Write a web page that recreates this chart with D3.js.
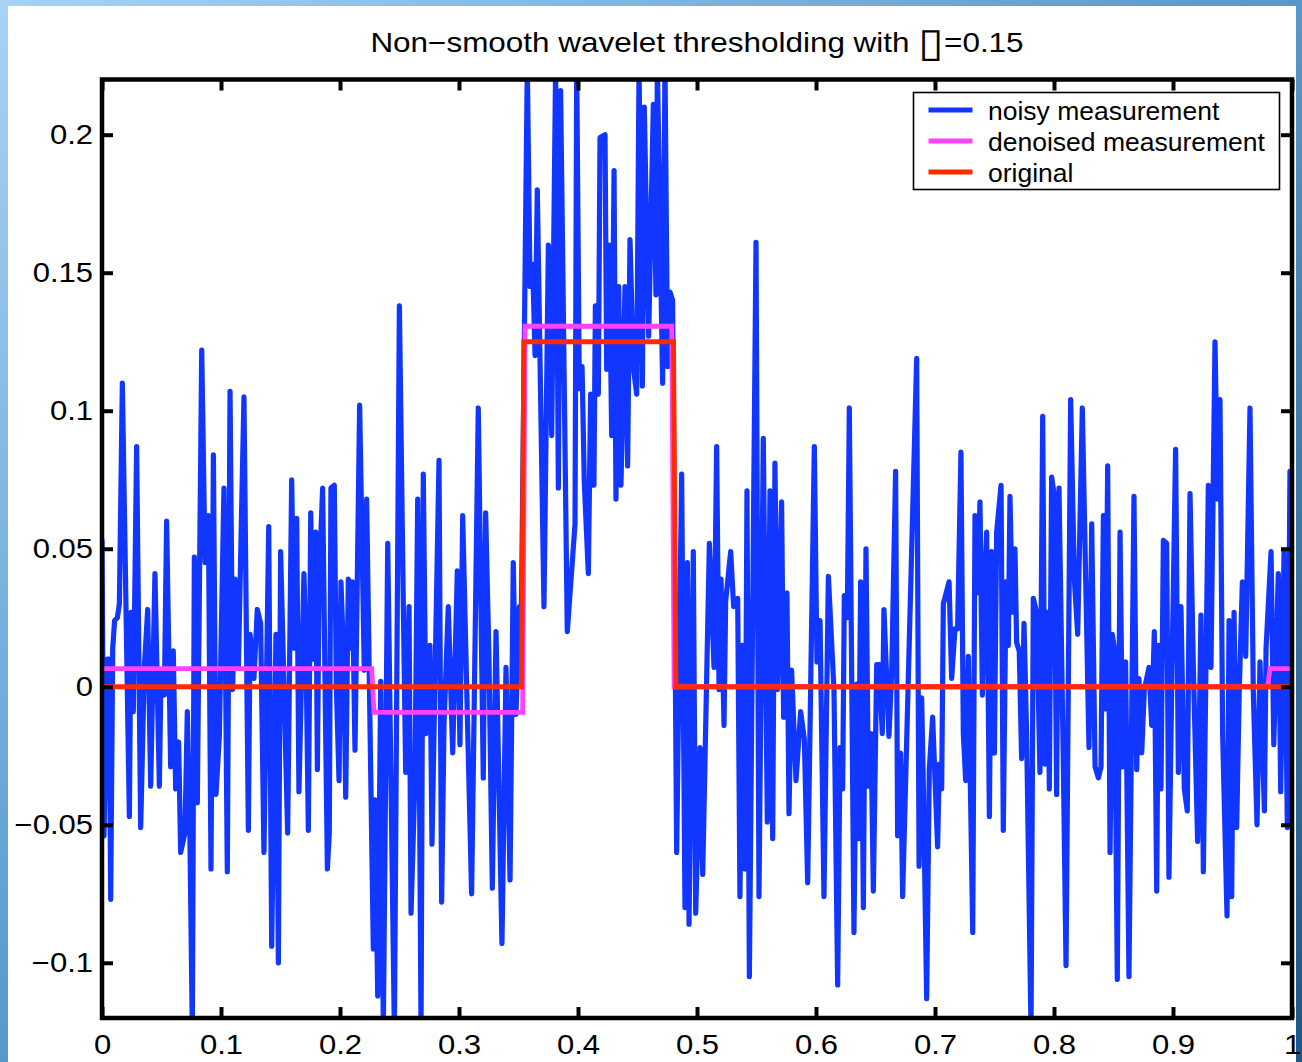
<!DOCTYPE html>
<html>
<head>
<meta charset="utf-8">
<script src="https://cdn.jsdelivr.net/npm/d3@7"></script>
<style>
  html, body { margin: 0; padding: 0; background: #ffffff; }
  svg { display: block; }
  text { font-family: "Liberation Sans", Arial, Helvetica, sans-serif; fill: #000; }
</style>
</head>
<body>
<svg id="chart" width="1302" height="1062"></svg>
<script>
// ---- data ----------------------------------------------------------------
const titleText = "Non\u2212smooth wavelet thresholding with ";
const titleGlyph = "\u25AF";
const titleTail = "=0.15";

const seriesNames = ["noisy measurement", "denoised measurement", "original"];
const seriesColors = ["#1036ff", "#ff42ff", "#ff2a00"];

const xTickValues = [0, 0.1, 0.2, 0.3, 0.4, 0.5, 0.6, 0.7, 0.8, 0.9, 1];
const xTickLabels = ["0", "0.1", "0.2", "0.3", "0.4", "0.5", "0.6", "0.7", "0.8", "0.9", "1"];
const yTickValues = [-0.1, -0.05, 0, 0.05, 0.1, 0.15, 0.2];
const yTickLabels = ["\u22120.1", "\u22120.05", "0", "0.05", "0.1", "0.15", "0.2"];

// noisy measurement: sample positions and values
const noisyT = [
  0.000, 0.0017, 0.0045, 0.0059, 0.0073, 0.0090, 0.0106, 0.0129, 0.0146, 0.0171, 0.0230, 0.0244, 0.0263, 0.0291, 0.0325, 0.0356, 0.0384, 0.0409, 0.0445, 0.0482, 0.0496, 0.0524, 0.0543, 0.0577, 0.0599, 0.0619, 0.0644, 0.0661, 0.0697, 0.0717, 0.0739, 0.0759, 0.0776, 0.0801, 0.0838, 0.0866, 0.0894, 0.0916, 0.0936, 0.0958, 0.0986, 0.1025, 0.1053, 0.1076, 0.1098, 0.1118, 0.1146, 0.1193, 0.1230, 0.1244, 0.1277, 0.1305, 0.1333, 0.1361, 0.1401, 0.1426, 0.1462, 0.1482, 0.1501, 0.1529, 0.1560, 0.1594, 0.1616, 0.1636, 0.1655,
  0.1697, 0.1714, 0.1734, 0.1754, 0.1776, 0.1796, 0.1810, 0.1824, 0.1854, 0.1894, 0.1910, 0.1924, 0.1952, 0.1969, 0.1992, 0.2008, 0.2031, 0.2048, 0.2070, 0.2092, 0.2104, 0.2126, 0.2165, 0.2204, 0.2224, 0.2280, 0.2294, 0.2317, 0.2342, 0.2364, 0.2401, 0.2457, 0.2499, 0.2532, 0.2552, 0.2580, 0.2597, 0.2630, 0.2653, 0.2681, 0.2700, 0.2723, 0.2756, 0.2773, 0.2832, 0.2854, 0.2874, 0.2910, 0.2947, 0.2986, 0.3008, 0.3031, 0.3064, 0.3106, 0.3162, 0.3204, 0.3224, 0.3252, 0.3280,
  0.3311, 0.3361, 0.3395, 0.3429, 0.3456, 0.3479, 0.3507, 0.3521,
  0.3574, 0.3597, 0.3619, 0.3639, 0.3658, 0.3714, 0.3751, 0.3779, 0.3812, 0.3835, 0.3854, 0.3910, 0.3975, 0.3989, 0.4011, 0.4034, 0.4053, 0.4087, 0.4106, 0.4134, 0.4146, 0.4171, 0.4185, 0.4227, 0.4241, 0.4263, 0.4283, 0.4303, 0.4319, 0.4342, 0.4361, 0.4395, 0.4417, 0.4437, 0.4465, 0.4493, 0.4513, 0.4541, 0.4557, 0.4594, 0.4633, 0.4655, 0.4667, 0.4711, 0.4731, 0.4753, 0.4773, 0.4795, 0.4829, 0.4871, 0.4899, 0.4919,
  0.4933, 0.4969, 0.4989, 0.5025, 0.5048, 0.5104, 0.5143, 0.5165, 0.5185, 0.5202, 0.5227, 0.5241, 0.5283, 0.5308, 0.5342, 0.5361, 0.5381, 0.5403, 0.5420, 0.5440, 0.5496, 0.5521, 0.5557, 0.5591, 0.5613, 0.5636, 0.5655, 0.5678, 0.5711, 0.5728, 0.5756, 0.5773, 0.5795, 0.5832, 0.5871, 0.5902, 0.5930, 0.5986, 0.6008, 0.6034, 0.6067, 0.6104, 0.6151, 0.6182, 0.6202, 0.6224, 0.6238, 0.6263, 0.6280, 0.6319, 0.6342, 0.6356, 0.6375, 0.6398, 0.6420, 0.6440, 0.6462, 0.6482, 0.6510, 0.6532, 0.6557, 0.6571,
  0.6594, 0.6613, 0.6636, 0.6669, 0.6686, 0.6711, 0.6728, 0.6846, 0.6866, 0.6888, 0.6902, 0.6930, 0.6952, 0.6980, 0.7022, 0.7036, 0.7056, 0.7070, 0.7118, 0.7140, 0.7168, 0.7190, 0.7218, 0.7238, 0.7258, 0.7280, 0.7317, 0.7336, 0.7356, 0.7378, 0.7398, 0.7415, 0.7434, 0.7457, 0.7476, 0.7499, 0.7518, 0.7555, 0.7574, 0.7597, 0.7616, 0.7630, 0.7650, 0.7672, 0.7686, 0.7708, 0.7728, 0.7748, 0.7770, 0.7807, 0.7826, 0.7854, 0.7882, 0.7905, 0.7924, 0.7944, 0.7961, 0.7980, 0.8000, 0.8022, 0.8042, 0.8078, 0.8101, 0.8140, 0.8171, 0.8199,
  0.8238, 0.8294, 0.8317, 0.8345, 0.8373, 0.8395, 0.8415, 0.8434, 0.8451, 0.8471, 0.8490, 0.8507, 0.8532, 0.8555, 0.8577, 0.8602, 0.8630, 0.8672, 0.8695, 0.8714, 0.8737, 0.8759, 0.8798, 0.8821, 0.8843, 0.8863, 0.8877, 0.8899, 0.8919, 0.8947, 0.8966, 0.8989, 0.9022, 0.9045, 0.9067, 0.9095, 0.9120, 0.9143, 0.9171, 0.9207, 0.9235, 0.9255, 0.9277, 0.9297, 0.9319, 0.9353, 0.9375, 0.9395, 0.9417, 0.9454, 0.9471, 0.9493, 0.9513, 0.9535, 0.9557, 0.9583, 0.9611, 0.9647, 0.9675, 0.9706, 0.9731, 0.9768, 0.9782, 0.9824, 0.9847, 0.9885, 0.9905, 0.9933, 0.9961, 0.9983, 1.0000
];
const noisyV = [
  0.053, -0.054, 0.010, 0.010, -0.077, 0.014, 0.024, 0.025, 0.030, 0.110, -0.047, 0.027, -0.009, 0.087, -0.051, 0.007, 0.028, -0.036, 0.041, -0.036, 0.005, -0.003, 0.060, -0.029, 0.013, -0.037, -0.020, -0.060, -0.053, -0.009, -0.055, -0.125, 0.047, -0.042, 0.122, 0.045, 0.062, -0.066, 0.084, -0.039, -0.018, 0.072, -0.067, 0.107, -0.001, 0.039, 0.007, 0.105, -0.052, 0.019, 0.003, 0.028, 0.023, -0.060, 0.058, -0.094, 0.019, -0.100, 0.049, 0.001, -0.053, 0.075, 0.014, 0.061, -0.038,
  0.041, 0.014, -0.052, 0.063, 0.010, 0.056, -0.030, 0.038, 0.072, -0.066, -0.053, 0.072, 0.073, 0.001, -0.034, 0.038, 0.010, -0.040, 0.039, 0.014, 0.038, -0.023, 0.102, 0.006, 0.068, -0.095, -0.041, -0.112, 0.002, -0.125, 0.052, -0.125, 0.138, 0.030, -0.031, 0.029, -0.082, -0.033, 0.068, -0.125, 0.077, -0.017, 0.015, -0.057, 0.082, -0.078, -0.014, 0.029, -0.024, 0.042, -0.021, 0.062, 0.001, -0.075, 0.101, -0.033, 0.063, 0.010, -0.073,
  0.020, -0.093, 0.007, -0.070, 0.045, -0.010, 0.029, 0.015,
  0.225, 0.145, 0.153, 0.120, 0.180, 0.029, 0.160, 0.091, 0.225, 0.072, 0.216, 0.020, 0.059, 0.225, 0.108, 0.116, 0.074, 0.041, 0.106, 0.073, 0.138, 0.106, 0.199, 0.200, 0.115, 0.160, 0.091, 0.187, 0.068, 0.145, 0.073, 0.145, 0.080, 0.162, 0.116, 0.106, 0.225, 0.109, 0.210, 0.127, 0.211, 0.142, 0.225, 0.110, 0.225, 0.116, 0.143, 0.140, -0.060, 0.077, -0.080, 0.045,
  -0.086, 0.049, -0.082, -0.022, -0.068, 0.052, 0.007, 0.087, -0.001, 0.039, -0.014, 0.031, 0.049, 0.029, 0.032, -0.076, 0.015, -0.066, 0.071, -0.105, 0.161, -0.076, 0.090, -0.049, 0.071, -0.055, 0.081, -0.001, 0.067, -0.011, 0.034, -0.046, 0.006, -0.034, -0.009, -0.019, -0.071, 0.087, 0.009, 0.024, -0.076, 0.040, -0.001, -0.108, -0.022, -0.037, 0.033, 0.025, 0.101, -0.089, 0.001, -0.055, 0.038, -0.080, 0.050, -0.036, -0.017, -0.074, 0.008, 0.008, -0.017, 0.028,
  0.003, -0.018, 0.005, 0.078, -0.054, -0.024, -0.076, 0.119, -0.065, -0.004, -0.036, -0.113, -0.030, -0.011, -0.058, -0.028, -0.037, 0.030, 0.038, 0.003, 0.021, 0.021, 0.085, -0.017, -0.034, 0.011, -0.089, 0.062, 0.034, 0.067, -0.003, 0.034, 0.056, -0.047, 0.049, -0.024, 0.056, 0.073, -0.052, 0.038, 0.015, 0.069, 0.027, 0.050, 0.016, 0.013, -0.026, 0.023, -0.017, -0.125, 0.032, 0.027, -0.031, 0.098, -0.028, 0.027, -0.037, 0.076, 0.070, -0.039, 0.072, -0.026, -0.101, 0.104, 0.039, 0.019,
  0.101, -0.022, 0.059, -0.029, -0.033, -0.029, 0.062, -0.008, 0.080, -0.060, 0.019, 0.014, -0.106, 0.056, -0.029, 0.009, -0.105, 0.069, -0.030, 0.003, -0.024, -0.001, 0.007, -0.014, 0.020, -0.074, 0.015, -0.037, 0.053, 0.052, -0.069, -0.001, 0.086, -0.031, 0.029, -0.037, -0.045, 0.070, 0.007, -0.056, 0.026, -0.067, 0.007, 0.073, 0.007, 0.125, 0.068, 0.104, -0.017, -0.083, 0.024, -0.076, 0.027, -0.051, -0.001, 0.038, 0.011, 0.101, -0.002, -0.050, 0.009, -0.045, 0.014, 0.049, -0.021, 0.041, -0.038, 0.049, -0.051, 0.078, -0.020
];

// denoised measurement (piecewise constant levels)
const denoisedT = [0, 0.2266, 0.2286, 0.3535, 0.3555, 0.4788, 0.4808, 0.9795, 0.9815, 1];
const denoisedV = [0.0066, 0.0066, -0.0093, -0.0093, 0.1306, 0.1306, 0, 0, 0.0066, 0.0066];

// original signal (box pulse)
const originalT = [0, 0.3525, 0.3545, 0.4803, 0.4823, 1];
const originalV = [0, 0, 0.125, 0.125, 0, 0];

// ---- layout ----------------------------------------------------------------
const W = 1302, H = 1062;
const plot = { left: 102, right: 1292, top: 79.5, bottom: 1018 };
const textStretch = 1.15;   // labels are set slightly wide

const svg = d3.select("#chart");

// slide frame behind the figure
const defs = svg.append("defs");
const grad = defs.append("linearGradient")
  .attr("id", "frameGrad").attr("x1", "0").attr("y1", "0").attr("x2", "1").attr("y2", "1");
grad.append("stop").attr("offset", "0").attr("stop-color", "#a9d2f2");
grad.append("stop").attr("offset", "0.45").attr("stop-color", "#5d9ed2");
grad.append("stop").attr("offset", "1").attr("stop-color", "#1c5786");
svg.append("rect").attr("width", W).attr("height", H).attr("fill", "url(#frameGrad)");
svg.append("rect").attr("x", 8).attr("y", 6).attr("width", 1288).attr("height", H - 6).attr("fill", "#ffffff");

defs.append("clipPath").attr("id", "plotClip")
  .append("rect")
  .attr("x", plot.left).attr("y", plot.top)
  .attr("width", plot.right - plot.left).attr("height", plot.bottom - plot.top);

const x = d3.scaleLinear().domain([0, 1]).range([plot.left, plot.right]);
const y = d3.scaleLinear().domain([-0.12, 0.22]).range([plot.bottom, plot.top]);

// ---- series ---------------------------------------------------------------
const line = d3.line().x(d => x(d[0])).y(d => y(d[1]));
const zipSeries = (ts, vs) => ts.map((t, i) => [t, vs[i]]);

const gData = svg.append("g").attr("clip-path", "url(#plotClip)");
gData.append("path")
  .datum(zipSeries(noisyT, noisyV))
  .attr("d", line)
  .attr("fill", "none").attr("stroke", seriesColors[0])
  .attr("stroke-width", 5.2).attr("stroke-linejoin", "round").attr("stroke-linecap", "round");
gData.append("path")
  .datum(zipSeries(denoisedT, denoisedV))
  .attr("d", line)
  .attr("fill", "none").attr("stroke", seriesColors[1])
  .attr("stroke-width", 4.8).attr("stroke-linejoin", "miter");
gData.append("path")
  .datum(zipSeries(originalT, originalV))
  .attr("d", line)
  .attr("fill", "none").attr("stroke", seriesColors[2])
  .attr("stroke-width", 4.8).attr("stroke-linejoin", "miter");

// ---- axes -----------------------------------------------------------------
const tickLen = 11;
function styleAxis(g) {
  g.select(".domain").remove();
  g.selectAll(".tick line").attr("stroke", "#000").attr("stroke-width", 4);
  g.selectAll(".tick text").attr("font-size", 27).attr("fill", "#000")
    .attr("font-family", "'Liberation Sans', Arial, Helvetica, sans-serif")
    .attr("transform", `scale(${textStretch},1)`);
}

svg.append("g")
  .attr("transform", `translate(0,${plot.bottom})`)
  .call(d3.axisBottom(x).tickValues(xTickValues)
    .tickFormat((d, i) => xTickLabels[i]).tickSize(-tickLen).tickPadding(17))
  .call(styleAxis);

svg.append("g")
  .attr("transform", `translate(0,${plot.top})`)
  .call(d3.axisTop(x).tickValues(xTickValues).tickFormat("").tickSize(-tickLen))
  .call(styleAxis);

svg.append("g")
  .attr("transform", `translate(${plot.left},0)`)
  .call(d3.axisLeft(y).tickValues(yTickValues)
    .tickFormat((d, i) => yTickLabels[i]).tickSize(-tickLen).tickPadding(7.8))
  .call(styleAxis);

svg.append("g")
  .attr("transform", `translate(${plot.right},0)`)
  .call(d3.axisRight(y).tickValues(yTickValues).tickFormat("").tickSize(-tickLen))
  .call(styleAxis);

// axes box
svg.append("rect")
  .attr("x", plot.left).attr("y", plot.top)
  .attr("width", plot.right - plot.left).attr("height", plot.bottom - plot.top)
  .attr("fill", "none").attr("stroke", "#000").attr("stroke-width", 4.5);

// ---- title ----------------------------------------------------------------
const title = svg.append("text")
  .attr("transform", `translate(${(plot.left + plot.right) / 2},52) scale(${textStretch + 0.015},1)`)
  .attr("text-anchor", "middle").attr("font-size", 27);
title.append("tspan").text(titleText);
title.append("tspan").attr("font-family", "'DejaVu Sans', sans-serif").attr("font-size", 40)
  .attr("font-weight", 200).attr("dy", 4).text(titleGlyph);
title.append("tspan").attr("dy", -4).text(titleTail);

// ---- legend ---------------------------------------------------------------
const legend = svg.append("g");
legend.append("rect")
  .attr("x", 913.5).attr("y", 92.5).attr("width", 366).attr("height", 97)
  .attr("fill", "#fff").attr("stroke", "#000").attr("stroke-width", 1.6);
const legendRows = [110, 141, 172];
seriesNames.forEach((name, i) => {
  legend.append("line")
    .attr("x1", 928.5).attr("x2", 972.5)
    .attr("y1", legendRows[i]).attr("y2", legendRows[i])
    .attr("stroke", seriesColors[i]).attr("stroke-width", 5);
  legend.append("text")
    .attr("x", 988).attr("y", legendRows[i] + 9.5)
    .attr("font-size", 26.5).text(name);
});
</script>
</body>
</html>
